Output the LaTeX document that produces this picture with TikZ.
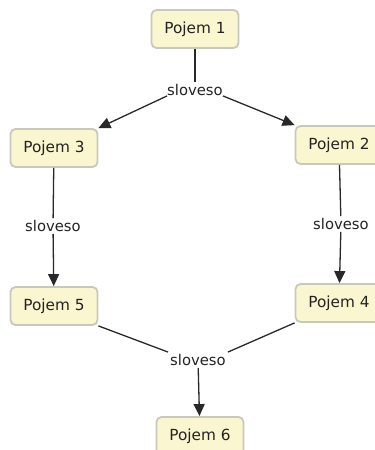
\documentclass[tikz,border=0pt]{standalone}
\usepackage{fontspec}
\setmainfont{DejaVu Sans}
\usetikzlibrary{arrows.meta}
\definecolor{conceptfill}{RGB}{250,246,208}
\definecolor{conceptedge}{RGB}{200,200,188}
\definecolor{linkline}{RGB}{40,40,40}
\definecolor{textgray}{RGB}{35,35,35}
\tikzset{
  concept/.style={draw=conceptedge, line width=1.8pt, fill=conceptfill,
    rounded corners=5pt, minimum width=87pt, minimum height=38pt,
    inner sep=0pt, text=textgray, font=\fontsize{15.3}{17}\selectfont},
  verb/.style={inner sep=2pt, text=textgray, font=\fontsize{14.8}{17}\selectfont},
  link/.style={draw=linkline, line width=1.3pt},
  arrowlink/.style={link, -{Triangle[length=12pt,width=11pt]}}
}
\begin{document}
\begin{tikzpicture}[x=1pt,y=1pt]
\useasboundingbox (0,0) rectangle (375,450);
\clip (0,0) rectangle (375,450);
% concepts
\node[concept] (p1) at (195,421) {Pojem 1};
\node[concept] (p3) at (54,302) {Pojem 3};
\node[concept] (p2) at (339,305) {Pojem 2};
\node[concept] (p5) at (54,144) {Pojem 5};
\node[concept] (p4) at (339,147) {Pojem 4};
\node[concept] (p6) at (200,14) {Pojem 6};
% linking phrases
\node[verb] (v1) at (195,360) {sloveso};
\node[verb] (v2) at (53,224) {sloveso};
\node[verb] (v3) at (341,226) {sloveso};
\node[verb] (v4) at (198,90) {sloveso};
% connectors
\draw[link] (p1) -- (v1);
\draw[arrowlink] (v1.south west) ++(2,2) coordinate (v1a) -- (p3.north east);
\draw[arrowlink] (v1.south east) ++(-2,2) coordinate (v1b) -- (p2.north west);
\draw[link] (p3) -- (v2);
\draw[arrowlink] (v2) -- (p5);
\draw[link] (p2) -- (v3);
\draw[arrowlink] (v3) -- (p4);
\draw[link] (p5.south east) -- (v4.north west);
\draw[link] (p4.south west) -- (v4.north east);
\draw[arrowlink] (v4) -- (p6);
\end{tikzpicture}
\end{document}
